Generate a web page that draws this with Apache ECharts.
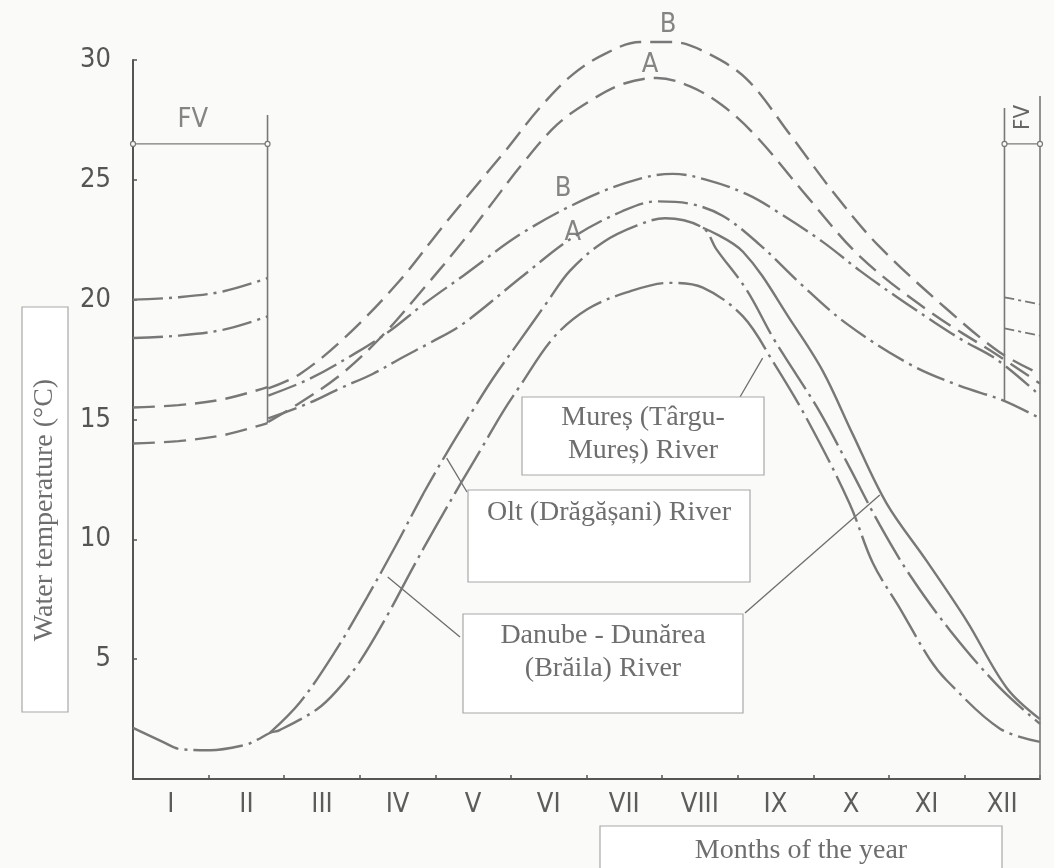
<!DOCTYPE html>
<html>
<head>
<meta charset="utf-8">
<script src="https://cdn.jsdelivr.net/npm/echarts@6/dist/echarts.min.js"></script>
<style>
  html, body { margin: 0; padding: 0; background: #fafaf8; }
  #chart { width: 1054px; height: 868px; }
</style>
</head>
<body>
<div id="chart"></div>
<script>
// month labels (x axis runs 0..12, one unit per month)
var months = ['I', 'II', 'III', 'IV', 'V', 'VI', 'VII', 'VIII', 'IX', 'X', 'XI', 'XII'];

// FV period, start of the year
var fvLeft1 = [[0, 20.0], [0.6, 20.1], [1.2, 20.35], [1.78, 20.9]];
var fvLeft2 = [[0, 18.4], [0.6, 18.5], [1.2, 18.75], [1.78, 19.3]];
var fvLeft3 = [[0, 15.5], [0.6, 15.6], [1.2, 15.85], [1.78, 16.35]];
var fvLeft4 = [[0, 14.0], [0.6, 14.1], [1.2, 14.35], [1.78, 14.85]];
// FV period, end of the year
var fvRight1 = [[11.53, 20.1], [12, 19.8]];
var fvRight2 = [[11.53, 18.8], [12, 18.5]];

// upper curves (dashed = B/A, dash-dot = B/A)
var curveBDashed = [[1.79, 16.3], [2.21, 16.9], [2.83, 18.5], [3.53, 20.8], [4.06, 22.9], [4.5, 24.6],
  [4.95, 26.3], [5.38, 28.0], [5.82, 29.4], [6.27, 30.3], [6.71, 30.75], [7.14, 30.75], [7.59, 30.3],
  [8.12, 29.2], [8.69, 26.9], [9.31, 24.3], [9.88, 22.2], [10.77, 19.6], [11.47, 17.8], [12, 16.9]];
var curveADashed = [[1.79, 14.9], [2.21, 15.7], [2.74, 16.85], [3.27, 18.4], [3.8, 20.3], [4.33, 22.3],
  [4.72, 23.9], [5.16, 25.7], [5.61, 27.3], [6.05, 28.3], [6.48, 29.0], [6.93, 29.25], [7.37, 28.9],
  [7.8, 28.1], [8.25, 26.8], [8.92, 24.3], [9.62, 21.8], [10.54, 19.5], [11.43, 17.7], [12, 16.5]];
var curveBDashDot = [[1.79, 16.0], [2.34, 16.7], [2.96, 17.8], [3.4, 18.7], [3.84, 19.8], [4.37, 21.0],
  [5.16, 22.8], [6.05, 24.3], [6.71, 25.05], [7.14, 25.25], [7.59, 25.0], [8.12, 24.4], [8.56, 23.6],
  [9.13, 22.4], [9.62, 21.2], [10.11, 20.1], [10.63, 19.0], [10.98, 18.3], [11.43, 17.5], [12, 16.0]];
var curveADashDot = [[1.79, 15.05], [2.34, 15.7], [2.74, 16.3], [3.17, 16.9], [3.57, 17.6], [3.93, 18.2],
  [4.37, 19.0], [5.16, 21.0], [5.82, 22.6], [6.48, 23.7], [6.93, 24.1], [7.37, 24.0], [7.8, 23.5],
  [8.29, 22.3], [8.82, 20.7], [9.44, 19.0], [10.28, 17.3], [10.94, 16.4], [11.51, 15.8], [12, 15.05]];

// lower curves (rivers)
var curveLow1 = [[0, 2.13], [0.4, 1.54], [0.62, 1.25], [1.02, 1.2], [1.48, 1.42], [1.64, 1.63],
  [1.81, 1.92], [1.94, 2.04], [2.43, 2.9], [2.7, 3.7], [3.0, 4.9], [3.36, 6.8], [3.7, 8.8],
  [4.0, 10.5], [4.33, 12.3], [4.63, 13.9], [4.89, 15.3], [5.12, 16.4], [5.56, 18.4], [6.01, 19.6],
  [6.53, 20.3], [7.1, 20.7], [7.54, 20.5], [8.07, 19.3], [8.47, 17.4], [8.92, 15.0], [9.48, 11.5],
  [9.79, 9.0], [10.15, 7.1], [10.54, 5.0], [10.77, 4.1], [11.47, 2.1], [12, 1.55]];
var curveLow2 = [[1.81, 1.92], [2.21, 3.2], [2.67, 5.3], [3.1, 7.6], [3.47, 9.7], [3.84, 11.9],
  [4.15, 13.6], [4.46, 15.2], [4.76, 16.7], [5.12, 18.3], [5.48, 19.9], [5.78, 21.2], [6.22, 22.4],
  [6.67, 23.1], [7.04, 23.4], [7.54, 23.0], [7.72, 22.1], [8.12, 20.4], [8.47, 18.4], [8.73, 17.1],
  [9.09, 15.3], [9.48, 13.0], [9.88, 10.6], [10.28, 8.5], [10.81, 6.2], [11.47, 3.8], [12, 2.3]];
var curveLow3 = [[7.54, 23.0], [8.07, 22.0], [8.73, 19.0], [9.13, 17.0], [9.52, 14.4], [9.97, 11.5],
  [10.5, 9.1], [11.03, 6.6], [11.56, 3.8], [12, 2.5]];

// FV brackets and right border
var fvLineLeft = [[1.78, 27.7], [1.78, 14.85]];
var fvArrowLeft = [[0, 26.5], [1.78, 26.5]];
var fvLineRight = [[11.53, 28.0], [11.53, 15.8]];
var fvArrowRight = [[11.53, 26.5], [12, 26.5]];
var rightBorder = [[12, 28.5], [12, 0]];

// curve letters
var curveLetters = [[7.08, 31.45, 'B'], [6.84, 29.8, 'A'], [5.69, 24.6, 'B'], [5.82, 22.8, 'A'],
  [0.79, 27.5, 'FV']];

// leader lines: point on a curve -> box corner (px)
var leaders = [
  { at: [8.33, 17.56], box: [740, 397] },
  { at: [4.15, 13.39], box: [467, 492] },
  { at: [3.37, 8.43], box: [460, 637] },
  { at: [9.88, 11.85], box: [745, 613] }
];

var lineColor = '#787878';
var axisColor = '#555555';
var textColor = '#6e6e6e';
var dashed = [22, 9];
var dashDot = [30, 6, 3, 6];
var longDashDot = [50, 6, 3, 6];

function curve(data, type, width) {
  return {
    type: 'line',
    xAxisIndex: 1,
    data: data,
    symbol: 'none',
    smooth: 0.35,
    clip: false,
    silent: true,
    lineStyle: { color: lineColor, width: width || 2.4, type: type }
  };
}

function straight(data, type, width, symbols) {
  return {
    type: 'line',
    xAxisIndex: 1,
    data: data,
    clip: false,
    symbol: symbols ? 'circle' : 'none',
    symbolSize: 5,
    itemStyle: { color: '#fafaf8', borderColor: lineColor, borderWidth: 1.2 },
    silent: true,
    lineStyle: { color: lineColor, width: width || 1.5, type: type || 'solid' }
  };
}

var chart = echarts.init(document.getElementById('chart'), null, { renderer: 'canvas' });

var option = {
  backgroundColor: '#fafaf8',
  animation: false,
  grid: {
    left: 133,
    right: 14,
    top: 60,
    bottom: 89,
    containLabel: false,
    outerBoundsMode: 'none'
  },
  xAxis: [{
      type: 'category',
      data: months,
      boundaryGap: true,
      axisLine: { lineStyle: { color: axisColor, width: 2 } },
      axisTick: { show: true, length: 4, inside: true, lineStyle: { color: axisColor, width: 1.5 } },
      axisLabel: {
        color: '#5c5c5c',
        fontSize: 27,
        fontFamily: 'DejaVu Sans Condensed',
        margin: 12
      },
      splitLine: { show: false }
    },
    {
      type: 'value',
      min: 0,
      max: 12,
      show: false
    }
  ],
  yAxis: {
    type: 'value',
    min: 0,
    max: 30,
    interval: 5,
    axisLine: { show: true, lineStyle: { color: axisColor, width: 2 } },
    axisTick: { show: true, length: 4, inside: true, lineStyle: { color: axisColor, width: 1.5 } },
    axisLabel: {
      color: '#555',
      fontSize: 27,
      fontFamily: 'DejaVu Sans Condensed',
      margin: 22,
      formatter: function (v) { return v === 0 ? '' : v; }
    },
    splitLine: { show: false }
  },
  series: [
    curve(fvLeft1, dashDot),
    curve(fvLeft2, dashDot),
    curve(fvLeft3, dashed),
    curve(fvLeft4, dashed),
    curve(fvRight1, [10, 4, 3, 4], 1.8),
    curve(fvRight2, [10, 4, 3, 4], 1.8),
    curve(curveBDashed, dashed),
    curve(curveADashed, dashed),
    curve(curveBDashDot, dashDot),
    curve(curveADashDot, dashDot),
    curve(curveLow1, longDashDot),
    curve(curveLow2, longDashDot),
    curve(curveLow3, 'solid'),
    straight(fvLineLeft, 'solid', 1.6),
    straight(fvArrowLeft, 'solid', 1.4, true),
    straight(fvLineRight, 'solid', 1.6),
    straight(fvArrowRight, 'solid', 1.4, true),
    straight(rightBorder, 'solid', 1.6),
    {
      type: 'scatter',
      xAxisIndex: 1,
      clip: false,
      silent: true,
      symbolSize: 0,
      data: curveLetters.map(function (d) { return { value: [d[0], d[1]], name: d[2] }; }),
      label: {
        show: true,
        position: 'inside',
        formatter: '{b}',
        color: '#666',
        fontSize: 27,
        fontFamily: 'DejaVu Sans Condensed'
      }
    }
  ]
};

chart.setOption(option);

// text boxes and leader lines
function box(x, y, w, h, lines, opts) {
  opts = opts || {};
  return {
    type: 'group',
    children: [{
        type: 'rect',
        shape: { x: x, y: y, width: w, height: h },
        style: { fill: '#ffffff', stroke: '#a8a8a8', lineWidth: 1.2 }
      },
      {
        type: 'text',
        x: opts.tx !== undefined ? opts.tx : x + w / 2,
        y: opts.ty !== undefined ? opts.ty : y + 4,
        rotation: opts.rotation || 0,
        style: {
          text: lines.join('\n'),
          fill: textColor,
          font: '28px "Liberation Serif", "Times New Roman", serif',
          align: 'center',
          verticalAlign: opts.rotation ? 'middle' : 'top',
          lineHeight: 33
        }
      }
    ]
  };
}

var graphics = [];
leaders.forEach(function (l) {
  var p = chart.convertToPixel({ xAxisIndex: 1, yAxisIndex: 0 }, l.at);
  graphics.push({
    type: 'line',
    shape: { x1: p[0], y1: p[1], x2: l.box[0], y2: l.box[1] },
    style: { stroke: '#6e6e6e', lineWidth: 1.3 }
  });
});
graphics.push(box(522, 397, 242, 78, ['Mureș (Târgu-', 'Mureș) River'], { ty: 401 }));
graphics.push(box(468, 490, 282, 92, ['Olt (Drăgășani) River'], { ty: 496 }));
graphics.push(box(463, 614, 280, 99, ['Danube - Dunărea', '(Brăila) River'], { ty: 619 }));
graphics.push(box(22, 307, 46, 405, ['Water temperature (°C)'], { tx: 45, ty: 510, rotation: Math.PI / 2 }));
graphics.push(box(600, 826, 402, 60, ['Months of the year'], { ty: 834 }));
// FV label on the right bracket, written vertically
var fvPos = chart.convertToPixel({ xAxisIndex: 1, yAxisIndex: 0 }, [11.78, 27.6]);
graphics.push({
  type: 'text',
  x: fvPos[0],
  y: fvPos[1],
  rotation: Math.PI / 2,
  style: {
    text: 'FV',
    fill: '#666',
    font: '22px "DejaVu Sans Condensed"',
    align: 'center',
    verticalAlign: 'middle'
  }
});

chart.setOption({ graphic: graphics });
</script>
</body>
</html>
